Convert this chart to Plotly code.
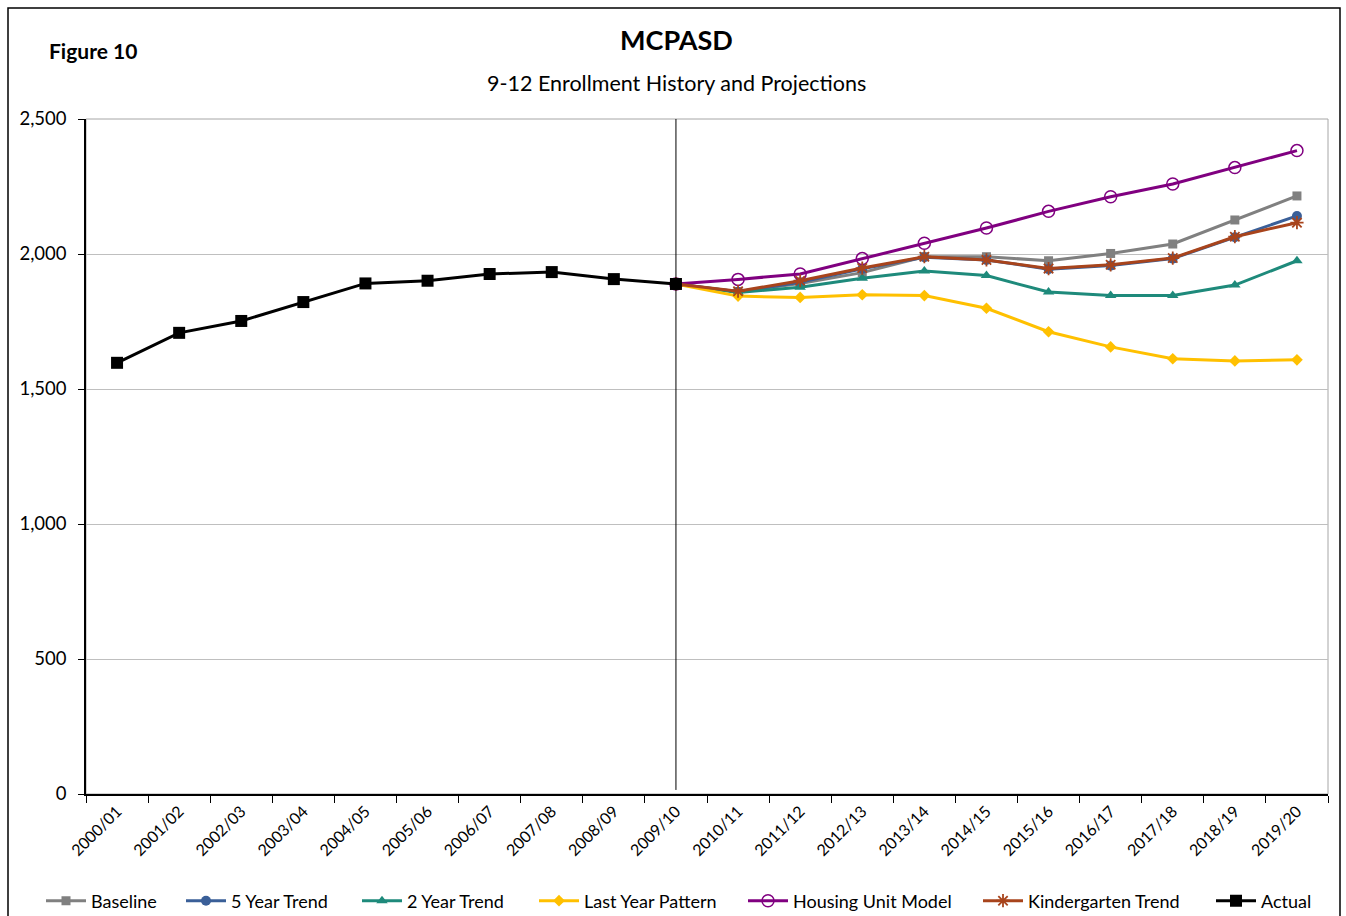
import plotly.graph_objects as go

# School years on the category axis
years = ["2000/01", "2001/02", "2002/03", "2003/04", "2004/05", "2005/06", "2006/07",
         "2007/08", "2008/09", "2009/10", "2010/11", "2011/12", "2012/13", "2013/14",
         "2014/15", "2015/16", "2016/17", "2017/18", "2018/19", "2019/20"]
hist_years = years[:10]
proj_years = years[9:]

# Enrollment, grades 9-12
actual = [1597, 1708, 1752, 1822, 1891, 1901, 1926, 1933, 1907, 1889]
baseline = [1889, 1860, 1891, 1931, 1990, 1990, 1975, 2002, 2037, 2126, 2215]
five_year = [1889, 1860, 1895, 1945, 1988, 1978, 1944, 1957, 1983, 2062, 2141]
two_year = [1889, 1857, 1877, 1910, 1937, 1920, 1859, 1846, 1846, 1885, 1975]
last_year = [1889, 1844, 1839, 1849, 1846, 1799, 1712, 1656, 1612, 1604, 1608]
housing = [1889, 1906, 1926, 1983, 2040, 2096, 2158, 2212, 2259, 2320, 2383]
kindergarten = [1889, 1862, 1901, 1948, 1990, 1978, 1946, 1960, 1985, 2064, 2116]

y_ticks = [0, 500, 1000, 1500, 2000, 2500]
y_tick_text = ["0", "500", "1,000", "1,500", "2,000", "2,500"]

FONT = "Lato"
W, H = 1346, 916
PLOT_L, PLOT_R, PLOT_T, PLOT_B = 86, 1328, 119, 794
PW, PH = PLOT_R - PLOT_L, PLOT_B - PLOT_T


def px_x(x):
    return (x - PLOT_L) / PW


def px_y(y):
    return (PLOT_B - y) / PH


series = [
    ("Baseline", baseline, "#808080", dict(symbol="square", size=9, color="#808080")),
    ("5 Year Trend", five_year, "#3A5F98", dict(symbol="circle", size=10, color="#3A5F98")),
    ("2 Year Trend", two_year, "#1E8A7B", dict(symbol="triangle-up", size=10, color="#1E8A7B")),
    ("Last Year Pattern", last_year, "#FFC000", dict(symbol="diamond", size=9, color="#FFC000")),
    ("Housing Unit Model", housing, "#800080",
     dict(symbol="circle-open", size=12, color="#800080", line=dict(width=1.5, color="#800080"))),
    ("Kindergarten Trend", kindergarten, "#A8441C",
     dict(symbol="asterisk-open", size=11, color="#A8441C", line=dict(width=1.8, color="#A8441C"))),
]

# Left edge (px) of each legend entry along the bottom row
legend_x = [41, 181, 357, 534, 743, 978, 1211]

fig = go.Figure()
for i, (name, vals, col, mk) in enumerate(series):
    fig.add_trace(go.Scatter(x=proj_years, y=vals, name=name, mode="lines+markers",
                             line=dict(color=col, width=3), marker=mk,
                             legend="legend" if i == 0 else f"legend{i + 1}"))

fig.add_trace(go.Scatter(x=hist_years, y=actual, name="Actual", mode="lines+markers",
                         line=dict(color="#000000", width=3),
                         marker=dict(symbol="square", size=12, color="#000000"),
                         legend="legend7"))

# Divider between history and projections
fig.add_shape(type="line", xref="x", yref="y", x0=9, x1=9, y0=15, y1=2500,
              line=dict(color="#000000", width=1))
# Plot area frame
fig.add_shape(type="rect", xref="paper", yref="paper", x0=0, x1=1, y0=0, y1=1,
              line=dict(color="#A6A6A6", width=1), layer="below")
# Outer chart border
fig.add_shape(type="rect", xref="paper", yref="paper",
              x0=px_x(8), x1=px_x(1340), y0=px_y(1000), y1=px_y(8),
              line=dict(color="#000000", width=1.5))

fig.add_annotation(text="<b>MCPASD</b>", xref="paper", yref="paper", x=px_x(676),
                   y=px_y(40), yanchor="middle", showarrow=False,
                   font=dict(size=27, family=FONT, color="#000"))
fig.add_annotation(text="9-12 Enrollment History and Projections", xref="paper", yref="paper",
                   x=px_x(676), y=px_y(83), yanchor="middle", showarrow=False,
                   font=dict(size=21.5, family=FONT, color="#000"))
fig.add_annotation(text="<b>Figure 10</b>", xref="paper", yref="paper", x=px_x(47),
                   xanchor="left", y=px_y(50), yanchor="middle", showarrow=False,
                   font=dict(size=21, family=FONT, color="#000"))

legend_style = dict(orientation="h", xref="container", yref="container", y=1 - 901 / H,
                    xanchor="left", yanchor="middle", font=dict(size=18, family=FONT),
                    itemwidth=40, bgcolor="rgba(0,0,0,0)", borderwidth=0)
legends = {}
for i, lx in enumerate(legend_x):
    key = "legend" if i == 0 else f"legend{i + 1}"
    legends[key] = dict(legend_style, x=lx / W)

fig.update_layout(
    width=W, height=H,
    margin=dict(l=PLOT_L, r=W - PLOT_R, t=PLOT_T, b=H - PLOT_B),
    paper_bgcolor="white", plot_bgcolor="white",
    font=dict(family=FONT, size=16, color="#000"),
    showlegend=True,
    xaxis=dict(type="category", categoryorder="array", categoryarray=years,
               range=[-0.5, 19.5], tickson="boundaries", ticks="outside", ticklen=7,
               tickcolor="#000", showline=True, linecolor="#000", linewidth=1.5,
               showgrid=False, tickangle=-45, tickfont=dict(size=16, family=FONT)),
    yaxis=dict(range=[0, 2500], tickvals=y_ticks, ticktext=y_tick_text, ticks="outside",
               ticklen=6, tickcolor="#000", showline=True, linecolor="#000", linewidth=1.5,
               showgrid=True, gridcolor="#BFBFBF", gridwidth=1, zeroline=False,
               ticklabelstandoff=8, tickfont=dict(size=18.5, family=FONT)),
    **legends,
)

fig.write_html("out.html")
